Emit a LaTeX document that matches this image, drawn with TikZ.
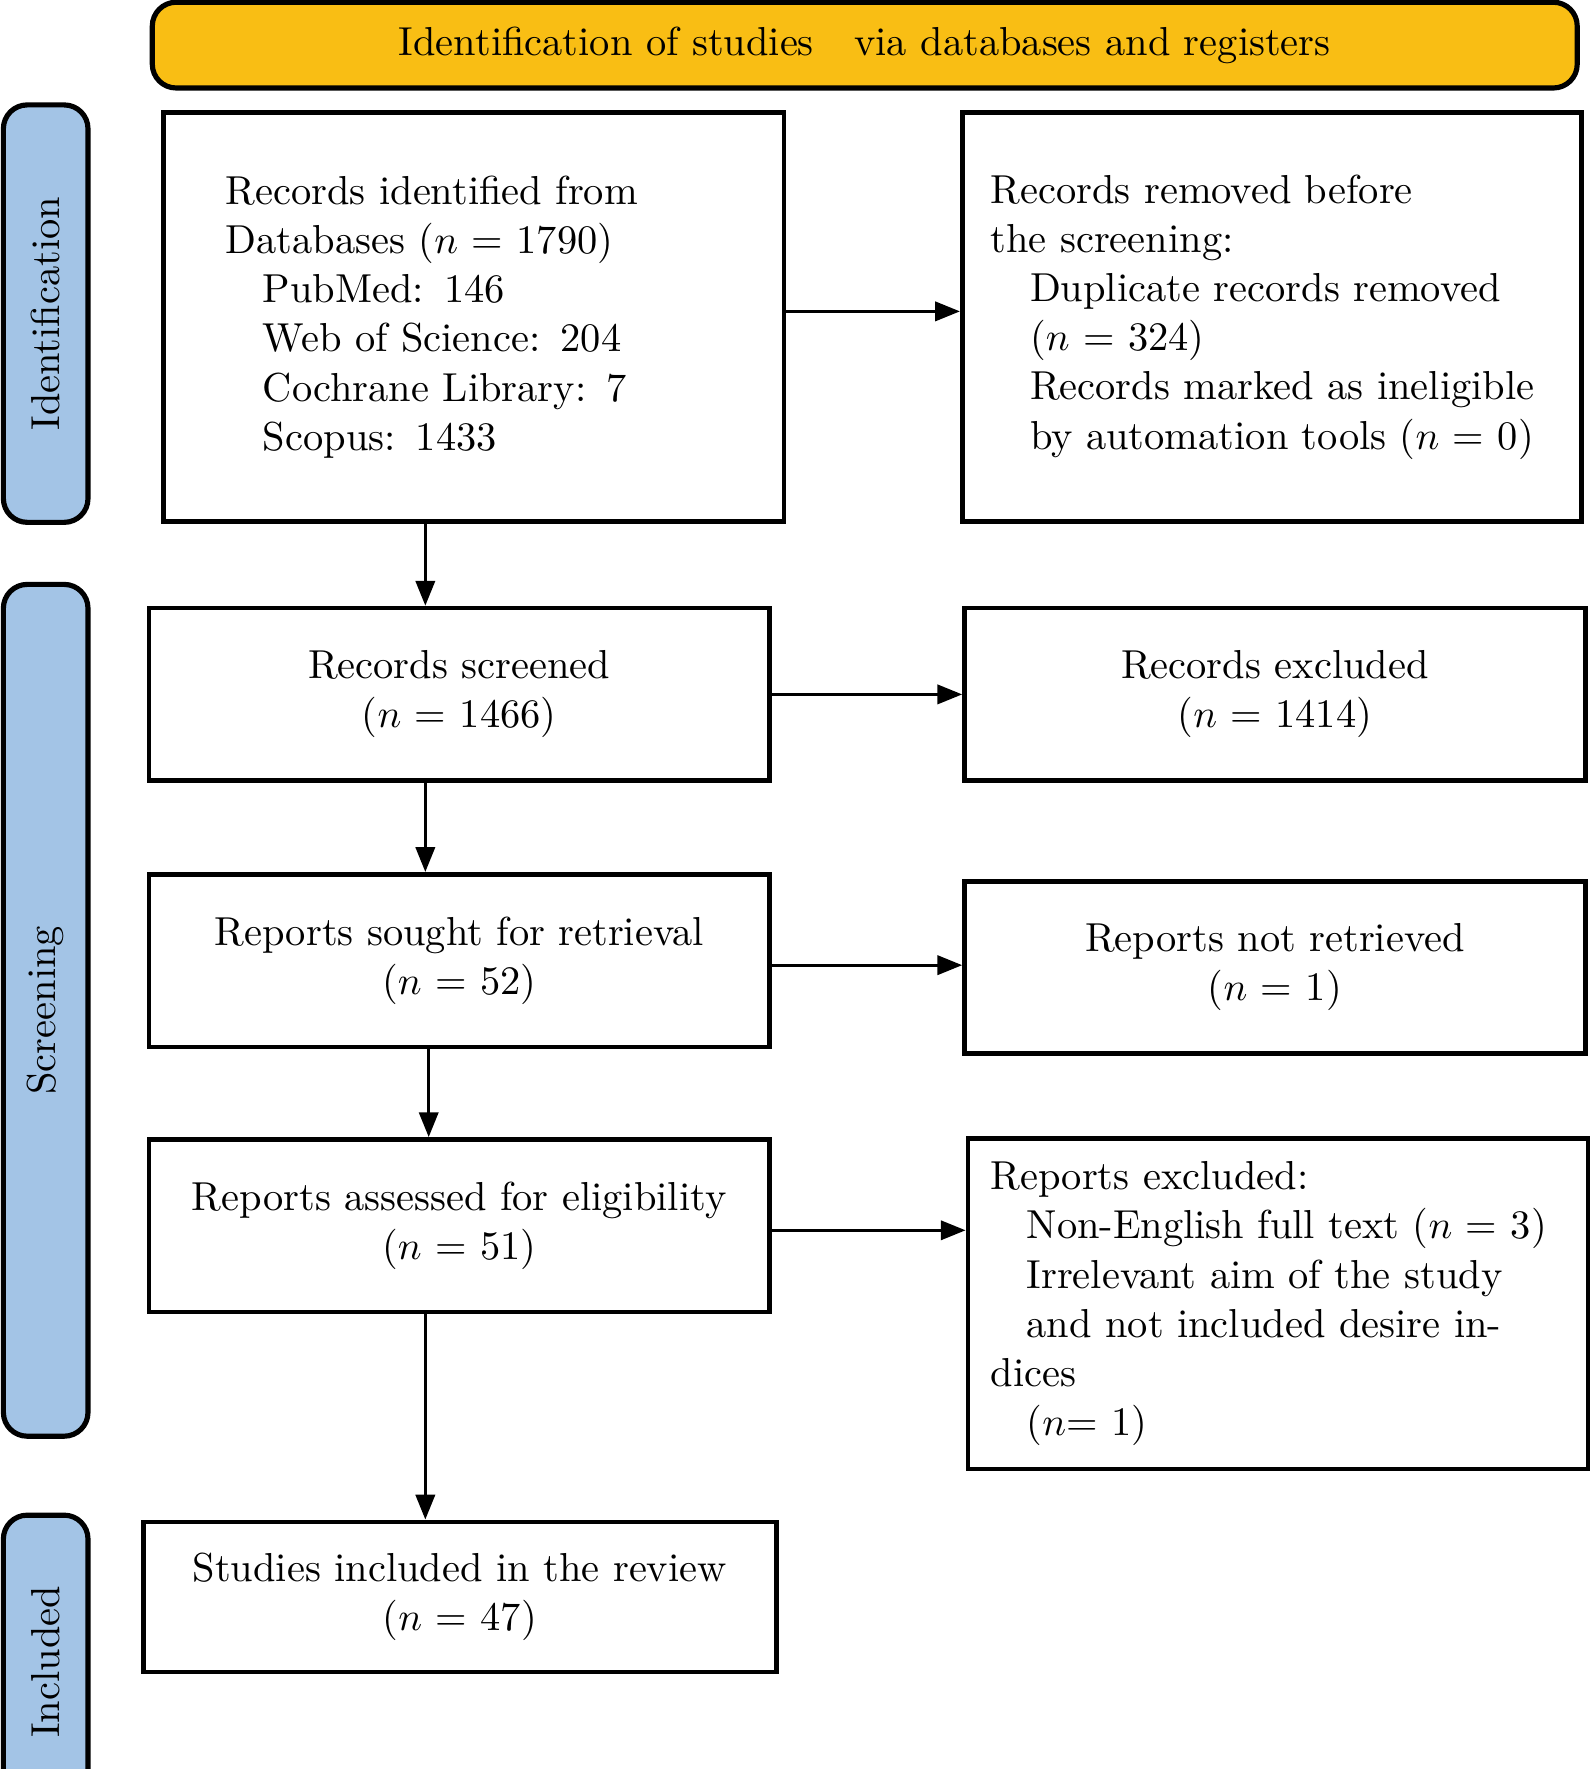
\documentclass[tikz,border=0pt]{standalone}
\usetikzlibrary{positioning,arrows.meta}
\definecolor{bannerorange}{HTML}{F9BE14}
\definecolor{sideblue}{HTML}{A3C4E6}
\tikzset{
  box/.style={draw, line width=1.2pt, minimum width=5.5cm, minimum height=1.53cm, inner sep=0pt, align=center},
  side/.style={draw, line width=1.3pt, rounded corners=6pt, fill=sideblue, minimum width=0.75cm, inner sep=0pt},
  flow/.style={-{Triangle[length=0.22cm,width=0.17cm]}, line width=0.8pt}
}
\begin{document}
\begin{tikzpicture}[font=\fontsize{10.2}{12.4}\selectfont]
  \useasboundingbox (0,0) rectangle (14.09,-15.68);
  % banner and side labels
  \node[draw, line width=1.3pt, rounded corners=6pt, fill=bannerorange, minimum width=12.63cm, minimum height=0.76cm] (banner) at (7.665,-0.40) {Identification of studies\quad via databases and registers};
  \node[side, minimum height=3.70cm] (sideid) at (0.405,-2.78) {};
  \node[rotate=90] at (sideid) {Identification};
  \node[side, minimum height=7.55cm] (sidescr) at (0.405,-8.955) {};
  \node[rotate=90] at (sidescr) {Screening};
  \node[side, minimum height=2.60cm] (sideinc) at (0.405,-14.73) {};
  \node[rotate=90] at (sideinc.center) {Included};
  % left column
  \node[box, minimum height=3.62cm, text width=4.40cm, align=left] (ident) at (4.20,-2.81) {Records identified from\\Databases ($n$ = 1790)\\
    \hspace*{0.33cm}PubMed: 146\\\hspace*{0.33cm}Web of Science: 204\\\hspace*{0.33cm}Cochrane Library: 7\\\hspace*{0.33cm}Scopus: 1433};
  \node[box] (screen) at (4.07,-6.155) {Records screened\\($n$ = 1466)};
  \node[box] (sought) at (4.07,-8.515) {Reports sought for retrieval\\($n$ = 52)};
  \node[box] (assess) at (4.07,-10.865) {Reports assessed for eligibility\\($n$ = 51)};
  \node[box, minimum width=5.61cm, minimum height=1.33cm] (incl) at (4.075,-14.155) {Studies included in the review\\($n$ = 47)};
  % right column
  \node[box, minimum width=5.49cm, minimum height=3.62cm, text width=4.99cm, align=left] (removed) at (11.275,-2.81) {Records removed before\\the screening:\\
    \hspace*{0.35cm}Duplicate records removed\\\hspace*{0.35cm}($n$ = 324)\\\hspace*{0.35cm}Records marked as ineligible\\\hspace*{0.35cm}by automation tools ($n$ = 0)};
  \node[box] (excl) at (11.30,-6.155) {Records excluded\\($n$ = 1414)};
  \node[box] (notret) at (11.30,-8.575) {Reports not retrieved\\($n$ = 1)};
  \node[box, minimum height=2.93cm, text width=5.10cm, align=left] (repexcl) at (11.33,-11.555) {Reports excluded:\\
    \hspace*{0.32cm}Non-English full text ($n$ = 3)\\\hspace*{0.32cm}Irrelevant aim of the study\\\hspace*{0.32cm}and not included desire indices\\\hspace*{0.32cm}($n$= 1)};
  % connectors
  \coordinate (col) at (3.77,0);
  \draw[flow] (ident.south -| col) -- (screen.north -| col);
  \draw[flow] (screen.south -| col) -- (sought.north -| col);
  \draw[flow] ([xshift=0.03cm]sought.south -| col) -- ([xshift=0.03cm]assess.north -| col);
  \draw[flow] (assess.south -| col) -- (incl.north -| col);
  \draw[flow] ([yshift=0.05cm]ident.east) -- ([yshift=0.05cm]ident.east -| removed.west);
  \draw[flow] (screen.east) -- (screen.east -| excl.west);
  \draw[flow] ([yshift=-0.04cm]sought.east) -- ([yshift=-0.04cm]sought.east -| notret.west);
  \draw[flow] ([yshift=-0.04cm]assess.east) -- ([yshift=-0.04cm]assess.east -| repexcl.west);
\end{tikzpicture}
\end{document}
